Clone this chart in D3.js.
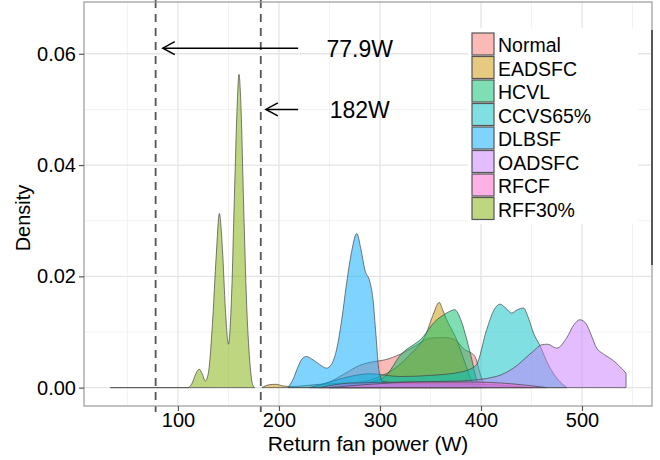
<!DOCTYPE html>
<html>
<head>
<meta charset="utf-8">
<script src="https://cdn.jsdelivr.net/npm/d3@7"></script>
<style>
  body { margin: 0; background: #fff; }
  text { font-family: "Liberation Sans", Arial, sans-serif; }
</style>
</head>
<body>
<svg width="660" height="460"></svg>
<script>
// series, in legend (and drawing) order
var seriesNames = ["Normal", "EADSFC", "HCVL", "CCVS65%", "DLBSF", "OADSFC", "RFCF", "RFF30%"];
var seriesColors = ["#F8766D", "#CD9600", "#00BE67", "#00BFC4", "#00A9FF", "#C77CFF", "#FF61CC", "#7CAE00"];

// density curves: [power (W), density]
var normal = [[230,0],[250,0.001],[265,0.0025],[280,0.004],[295,0.0047],[305,0.005],[320,0.006],[335,0.0075],
  [350,0.0089],[365,0.009],[375,0.0085],[382,0.0071],[394,0.0056],[400,0.002],[405,0]];
var eadsfc = [[183,0],[190,0.0005],[197,0.0006],[204,0.0003],[212,0.0002],[240,0.0006],[280,0.001],[300,0.002],
  [315,0.0035],[330,0.006],[346,0.0098],[352,0.0128],[358.7,0.0153],[362,0.014],[366,0.0122],[375,0.009],
  [385,0.004],[390,0.0015],[395,0]];
var hcvl = [[250,0],[270,0.0006],[290,0.001],[305,0.002],[320,0.0058],[343,0.0092],[353,0.0116],[366,0.0134],
  [374,0.014],[380,0.0122],[386,0.0086],[391,0.005],[396,0.0012],[400,0]];
var ccvs = [[230,0],[250,0.001],[270,0.002],[290,0.0025],[320,0.002],[350,0.0022],[380,0.0028],[395,0.004],
  [405.6,0.0104],[413,0.014],[419,0.015],[425,0.0142],[430.4,0.0134],[436,0.014],[442,0.0143],[447,0.0125],
  [452,0.0098],[458,0.0077],[467,0.004],[476,0.0015],[485,0]];
var dlbsf = [[209,0],[214,0.0015],[219,0.0038],[223,0.0052],[227,0.0056],[232,0.0052],[240,0.0042],[247,0.0035],
  [252,0.0042],[257,0.0068],[262,0.012],[267,0.0188],[272,0.0245],[277,0.0277],[281,0.025],[285,0.0212],
  [290,0.019],[293,0.016],[296,0.0095],[299,0.003],[303,0.0011],[320,0.0008],[360,0.0007],[400,0.0006],
  [430,0.0003],[450,0]];
var oadsfc = [[240,0],[270,0.0008],[320,0.001],[380,0.0012],[415,0.002],[432,0.0035],[451.5,0.0065],[460,0.0077],
  [466,0.0078],[475,0.0071],[485,0.009],[492,0.0113],[498,0.0122],[504,0.0115],[509,0.0095],[514.5,0.0071],
  [520,0.0062],[527.7,0.0053],[534,0.0044],[539,0.0035],[543.6,0.0026]];
var rfcf = [[250,0],[290,0.0006],[340,0.001],[390,0.001],[430,0.0007],[465,0]];
var rff30 = [[33,0],[110,0],[114,0.0008],[118,0.0026],[121,0.0033],[124,0.0025],[127,0.0012],[130,0.0025],
  [134,0.011],[138,0.024],[141,0.0313],[144,0.025],[147,0.014],[150,0.0078],[153,0.016],[156,0.035],
  [158.5,0.05],[160.4,0.0563],[162.5,0.05],[165,0.033],[168,0.015],[171,0.005],[174,0.0005],[176,0]];
var seriesData = [normal, eadsfc, hcvl, ccvs, dlbsf, oadsfc, rfcf, rff30];

var xTicks = [100, 200, 300, 400, 500];
var xMinor = [50, 150, 250, 350, 450, 550];
var yTicks = [0, 0.02, 0.04, 0.06];
var yMinor = [0.01, 0.03, 0.05];

// dashed reference lines and arrow notes
var vlines = [77.9, 182];
var notes = [
  {label: "77.9W", y: 0.061, from: 219, to: 85},
  {label: "182W", y: 0.05, from: 219, to: 187}
];

var svg = d3.select("svg"),
    panel = {left: 84, right: 652, top: 2, bottom: 406};

var x = d3.scaleLinear().domain([7, 569.3]).range([panel.left, panel.right]);
var y = d3.scaleLinear().domain([-0.0033, 0.0693]).range([panel.bottom, panel.top]);

// grid
var grid = svg.append("g");
grid.selectAll(".xminor").data(xMinor).enter().append("line")
    .attr("x1", x).attr("x2", x).attr("y1", panel.top).attr("y2", panel.bottom)
    .style("stroke", "#f2f2f2").style("stroke-width", 1);
grid.selectAll(".yminor").data(yMinor).enter().append("line")
    .attr("y1", y).attr("y2", y).attr("x1", panel.left).attr("x2", panel.right)
    .style("stroke", "#f2f2f2").style("stroke-width", 1);
grid.selectAll(".xmajor").data(xTicks).enter().append("line")
    .attr("x1", x).attr("x2", x).attr("y1", panel.top).attr("y2", panel.bottom)
    .style("stroke", "#e5e5e5").style("stroke-width", 1.3);
grid.selectAll(".ymajor").data(yTicks).enter().append("line")
    .attr("y1", y).attr("y2", y).attr("x1", panel.left).attr("x2", panel.right)
    .style("stroke", "#e5e5e5").style("stroke-width", 1.3);

// densities
var area = d3.area()
    .x(function(d) { return x(d[0]); })
    .y0(y(0))
    .y1(function(d) { return y(d[1]); })
    .curve(d3.curveMonotoneX);

svg.append("g").selectAll("path")
    .data(seriesData)
    .enter().append("path")
    .attr("d", area)
    .style("fill", function(d, i) { return seriesColors[i]; })
    .style("fill-opacity", 0.5)
    .style("stroke", "#444")
    .style("stroke-width", 0.7)
    .style("stroke-linejoin", "round");

// dashed lines
svg.append("g").selectAll("line")
    .data(vlines)
    .enter().append("line")
    .attr("x1", x).attr("x2", x)
    .attr("y1", 0).attr("y2", panel.bottom + 6)
    .style("stroke", "#555")
    .style("stroke-width", 1.8)
    .style("stroke-dasharray", "8,6");

// arrows
svg.append("defs").append("marker")
    .attr("id", "head")
    .attr("viewBox", "-14 -8 16 16")
    .attr("refX", 0).attr("refY", 0)
    .attr("markerWidth", 16).attr("markerHeight", 16)
    .attr("markerUnits", "userSpaceOnUse")
    .attr("orient", "auto")
    .append("path")
    .attr("d", "M-12,-6.5L0,0L-12,6.5")
    .style("fill", "none").style("stroke", "#000").style("stroke-width", 1.5);

var note = svg.append("g").selectAll("g").data(notes).enter().append("g");
note.append("line")
    .attr("x1", function(d) { return x(d.from); })
    .attr("x2", function(d) { return x(d.to); })
    .attr("y1", function(d) { return y(d.y); })
    .attr("y2", function(d) { return y(d.y); })
    .attr("marker-end", "url(#head)")
    .style("stroke", "#000").style("stroke-width", 1.5);
note.append("text")
    .attr("x", x(280))
    .attr("y", function(d) { return y(d.y) + 1; })
    .attr("text-anchor", "middle")
    .attr("dominant-baseline", "central")
    .style("font-size", "23px")
    .text(function(d) { return d.label; });

// panel border
svg.append("rect")
    .attr("x", panel.left).attr("y", panel.top)
    .attr("width", panel.right - panel.left).attr("height", panel.bottom - panel.top)
    .style("fill", "none").style("stroke", "#999").style("stroke-width", 1.2);
svg.append("line")
    .attr("x1", panel.right).attr("x2", panel.right).attr("y1", 30).attr("y2", 265)
    .style("stroke", "#333").style("stroke-width", 1.5);

// axes
var xAxis = svg.append("g").attr("transform", "translate(0," + panel.bottom + ")")
    .call(d3.axisBottom(x).tickValues(xTicks).tickSize(5).tickPadding(2).tickFormat(d3.format("d")));
var yAxis = svg.append("g").attr("transform", "translate(" + panel.left + ",0)")
    .call(d3.axisLeft(y).tickValues(yTicks).tickSize(5).tickPadding(3).tickFormat(d3.format(".2f")));
[xAxis, yAxis].forEach(function(a) {
  a.select(".domain").remove();
  a.selectAll(".tick line").style("stroke", "#555").style("stroke-width", 1.2);
  a.selectAll(".tick text").style("font-size", "20px").style("fill", "#000")
      .style("font-family", "'Liberation Sans', Arial, sans-serif");
});

svg.append("text")
    .attr("x", (panel.left + panel.right) / 2).attr("y", 451)
    .attr("text-anchor", "middle")
    .style("font-size", "21px")
    .text("Return fan power (W)");
svg.append("text")
    .attr("transform", "translate(30,218) rotate(-90)")
    .attr("text-anchor", "middle")
    .style("font-size", "20px")
    .text("Density");

// legend
var legendSquare = 22, legendPitch = 23.5;
var legendBox = svg.append("g").attr("transform", "translate(472,33)");
legendBox.append("rect")
    .attr("x", -4).attr("y", -5)
    .attr("width", 170).attr("height", 8 * legendPitch + 8)
    .style("fill", "#fff");
var legend = legendBox.selectAll(".legend")
    .data(seriesNames)
    .enter().append("g")
    .attr("class", "legend")
    .attr("transform", function(d, i) { return "translate(0," + i * legendPitch + ")"; });
legend.append("rect")
    .attr("width", legendSquare).attr("height", legendSquare)
    .style("fill", "#fff");
legend.append("rect")
    .attr("width", legendSquare).attr("height", legendSquare)
    .style("fill", function(d, i) { return seriesColors[i]; })
    .style("fill-opacity", 0.5)
    .style("stroke", "#555").style("stroke-width", 1.2);
legend.append("text")
    .attr("x", legendSquare + 4)
    .attr("y", legendSquare / 2 + 1)
    .attr("dominant-baseline", "central")
    .style("font-size", "19.5px")
    .text(function(d) { return d; });
</script>
</body>
</html>
